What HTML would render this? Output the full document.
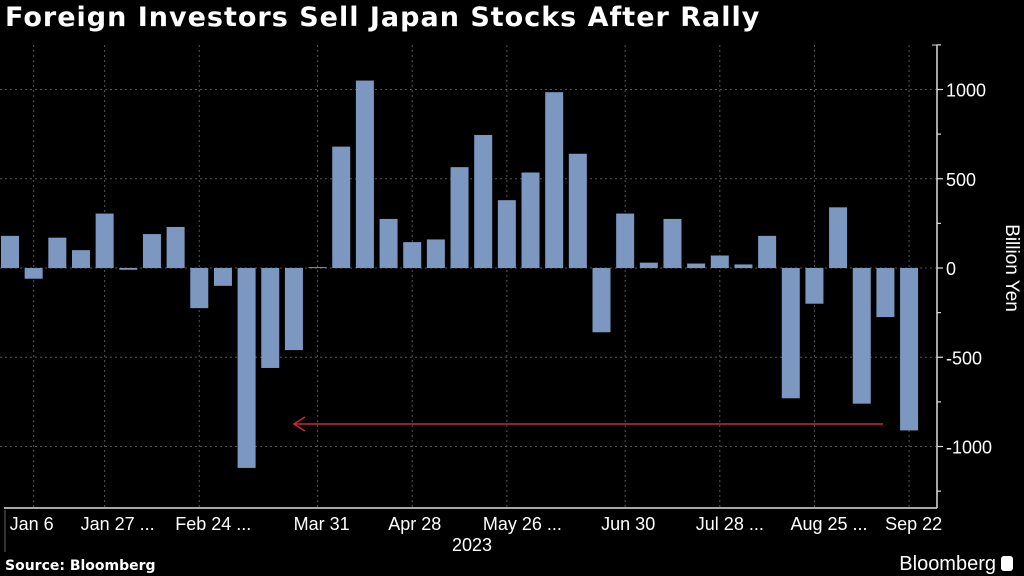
<!DOCTYPE html>
<html><head><meta charset="utf-8"><style>
body{margin:0;background:#000;width:1024px;height:576px;overflow:hidden;font-family:"Liberation Sans",sans-serif;color:#fff}
#title{position:absolute;left:5px;top:2px;font-size:27px;letter-spacing:1px;font-weight:bold;font-family:"DejaVu Sans",sans-serif;white-space:nowrap}
svg{position:absolute;left:0;top:0}
</style></head><body>
<div id="title">Foreign Investors Sell Japan Stocks After Rally</div>
<svg id="c" width="1024" height="576"></svg>
<script>
const values=[180,-60,170,100,305,-10,190,230,-225,-100,-1120,-560,-460,5,680,1050,275,145,160,565,745,380,535,985,640,-360,305,30,275,25,70,20,180,-730,-200,340,-760,-275,-910];
const xLabels=["Jan 6","Jan 27 ...","Feb 24 ...","Mar 31","Apr 28","May 26 ...","Jun 30","Jul 28 ...","Aug 25 ...","Sep 22"];
const xLabelIdx=[1,4,8,13,17,21,26,30,34,38];
const yTicks=[1000,500,0,-500,-1000];
const arrowFrom=38, arrowTo=12, arrowVal=-874;
const NS="http://www.w3.org/2000/svg",svg=document.getElementById('c');
const x0=1,step=23.66,bw=18;
const X=i=>x0+i*step+bw/2;
const Y=v=>268-v*0.1785;
function mk(t,a,p){const e=document.createElementNS(NS,t);for(const k in a)e.setAttribute(k,a[k]);(p||svg).appendChild(e);return e;}
yTicks.forEach(v=>{const l=mk('line',{x1:0,x2:936,y1:Y(v),y2:Y(v),stroke:'#555','stroke-dasharray':'2,3','stroke-width':1});

});
xLabelIdx.forEach(i=>{const l=mk('line',{x1:X(i),x2:X(i),y1:45,y2:508,stroke:'#555','stroke-dasharray':'2,3','stroke-width':1});

});
values.forEach((v,i)=>{const y=Math.min(Y(v),Y(0)),h=Math.max(Math.abs(Y(v)-Y(0)),1);
const r=mk('rect',{x:X(i)-bw/2,y:y,width:bw,height:h,fill:'#7d98c0'});

});
let a=mk('line',{x1:937,x2:937,y1:45,y2:508,stroke:'#ddd','stroke-width':1.5});


mk('line',{x1:932,x2:937,y1:45,y2:45,stroke:'#ddd'});
for(let v=1250;v>=-1250;v-=250){mk('line',{x1:937,x2:v%500===0?943:941,y1:Y(v),y2:Y(v),stroke:'#ddd','stroke-width':1.2});}
yTicks.forEach(v=>{const t=mk('text',{x:946,y:Y(v)+7,fill:'#fff','font-size':18});t.textContent=v;

});
a=mk('line',{x1:4,x2:937,y1:508,y2:508,stroke:'#ddd','stroke-width':1.5});


xLabels.forEach((s,k)=>{const i=xLabelIdx[k];const t=mk('text',{x:X(i)-24,y:530,fill:'#fff','font-size':18});t.textContent=s;

});
mk('line',{x1:5,x2:5,y1:510,y2:552,stroke:'#666'});
let t=mk('text',{x:452,y:551,fill:'#fff','font-size':18});t.textContent='2023';


t=mk('text',{x:1006,y:268,fill:'#fff','font-size':19,'text-anchor':'middle',transform:'rotate(90 1006 268)'});t.textContent='Billion Yen';


const ay=Y(arrowVal),ax=X(arrowTo);
const g=mk('g',{stroke:'#c8283c','stroke-width':1.5,fill:'none'});


mk('line',{x1:X(arrowFrom)-26,x2:ax,y1:ay,y2:ay},g);
mk('polyline',{points:`${ax+11},${ay-7} ${ax},${ay} ${ax+11},${ay+7}`},g);
t=mk('text',{x:5,y:570,fill:'#fff','font-size':14,'font-weight':'bold','font-family':'DejaVu Sans, sans-serif'});t.textContent='Source: Bloomberg';


t=mk('text',{x:996,y:570,fill:'#fff','font-size':20,'text-anchor':'end'});t.textContent='Bloomberg';


mk('rect',{x:1001,y:556,width:12,height:15,rx:3,fill:'#fff'});
</script>
</body></html>
